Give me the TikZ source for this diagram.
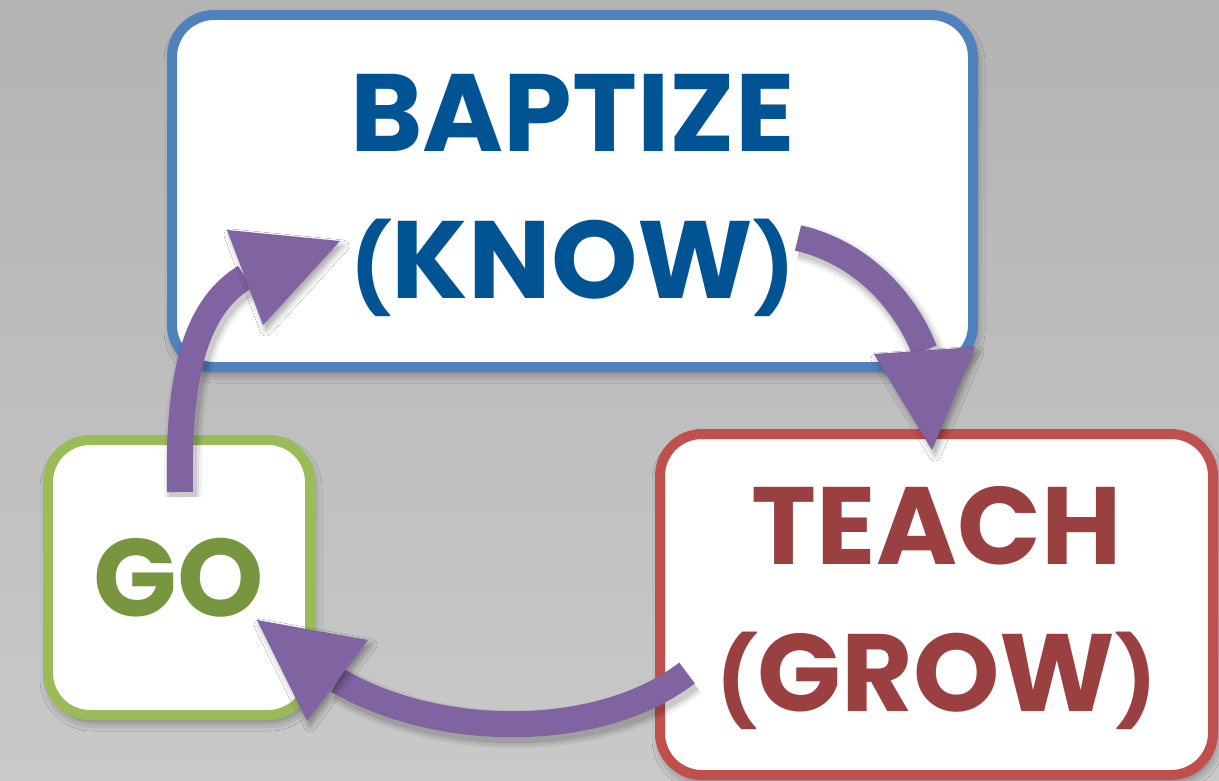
\documentclass[tikz,border=0pt]{standalone}
\usepackage{fontspec}
\setmainfont{Poppins}
\usetikzlibrary{shadows.blur}
\definecolor{bgtop}{HTML}{B3B3B3}
\definecolor{bgbot}{HTML}{C9C9C9}
\definecolor{blueline}{HTML}{4F81BD}
\definecolor{bluetext}{HTML}{005494}
\definecolor{redline}{HTML}{C0504D}
\definecolor{redtext}{HTML}{9B4040}
\definecolor{greenline}{HTML}{9BBB59}
\definecolor{greentext}{HTML}{78953F}
\definecolor{arrowpurple}{HTML}{8064A2}
\newcommand\smallparen[1]{{\fontsize{87}{87}\selectfont #1}}
\newcommand\topstrut{\rule{0pt}{86pt}}
\begin{document}
\begin{tikzpicture}[x=1pt,y=-1pt,
  box/.style={draw, line width=10pt, fill=white, rounded corners=42pt, align=center,
    inner sep=0pt, font=\fontsize{110}{147}\selectfont\bfseries,
    blur shadow={shadow xshift=2pt, shadow yshift=-6pt, shadow blur radius=10pt, shadow opacity=45}},
  shaft/.style={draw=arrowpurple, line width=26pt},
  shaftshade/.style={draw=black, transform canvas={xshift=3pt,yshift=-5pt}},
  head/.style={fill=arrowpurple, blur shadow={shadow xshift=3pt, shadow yshift=-5pt, shadow blur radius=6pt, shadow opacity=35}}
]
\shade[top color=bgtop, bottom color=bgbot] (0,0) rectangle (1219,781);
\useasboundingbox (0,0) rectangle (1219,781);

% boxes
\node[box, draw=blueline, text=bluetext, minimum width=801pt, minimum height=352pt] (baptize) at (572.5,191) {\topstrut BAPTIZE\\\smallparen{(}KNOW\smallparen{)}};
\node[box, draw=redline, text=redtext, minimum width=553pt, minimum height=341pt] (teach) at (936.5,604.5) {\topstrut TEACH\\\smallparen{(}GROW\smallparen{)}};
\node[box, draw=greenline, text=greentext, minimum width=262pt, minimum height=275pt] (go) at (179,577.5) {GO};

% arrow coordinates
\coordinate (a1s) at (180,492);
\coordinate (a1m) at (245,277);
\coordinate (a1t) at (340,241);
\coordinate (a1p) at (227,230);
\coordinate (a1q) at (263,325);

\coordinate (a2s) at (798,238);
\coordinate (a2m) at (924.5,350.5);
\coordinate (a2t) at (932,450);
\coordinate (a2p) at (874,354);
\coordinate (a2q) at (975,347);

\coordinate (a3s) at (687,673);
\coordinate (a3m) at (337.5,680.5);
\coordinate (a3t) at (257,620);
\coordinate (a3p) at (368,640);
\coordinate (a3q) at (307,721);

% shaft shadows
\foreach \w/\o in {38/0.05,33/0.07,28/0.09}{
  \draw[shaftshade, line width=\w pt, opacity=\o] (a1s) .. controls (178,390) and (190,310) .. (a1m);
  \draw[shaftshade, line width=\w pt, opacity=\o] (a2s) .. controls (860,252) and (905,300) .. (a2m);
  \draw[shaftshade, line width=\w pt, opacity=\o] (a3s) .. controls (600,740) and (440,740) .. (a3m);
}

% arrows: GO -> BAPTIZE
\draw[shaft] (a1s) .. controls (178,390) and (190,310) .. (a1m);
\path[head] (a1t) -- (a1p) -- (a1q) -- cycle;
% BAPTIZE -> TEACH
\draw[shaft] (a2s) .. controls (860,252) and (905,300) .. (a2m);
\path[head] (a2t) -- (a2p) -- (a2q) -- cycle;
% TEACH -> GO
\draw[shaft] (a3s) .. controls (600,740) and (440,740) .. (a3m);
\path[head] (a3t) -- (a3p) -- (a3q) -- cycle;
\end{tikzpicture}
\end{document}
